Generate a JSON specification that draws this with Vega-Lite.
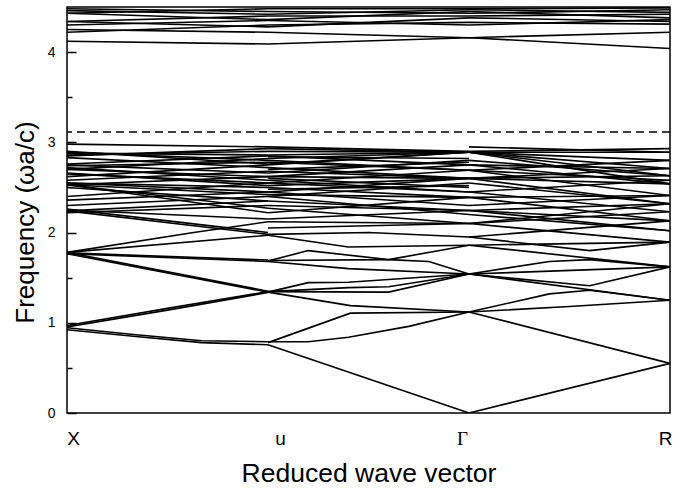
{
"$schema":"https://vega.github.io/schema/vega-lite/v6.json",
"autosize":"none",
"width":603,"height":406,
"padding":{"left":67,"top":7,"right":23,"bottom":78},
"background":"white",
"config":{"view":{"stroke":"black","strokeWidth":1.5},"font":"Liberation Sans"},
"layer":[
{"data":{"values":[
{"s":"A1","x":0,"y":0.923},{"s":"A1","x":0.33,"y":0.85},{"s":"A1","x":0.67,"y":0.78},{"s":"A1","x":1,"y":0.757},
{"s":"A2","x":0,"y":0.945},{"s":"A2","x":0.33,"y":0.87},{"s":"A2","x":0.67,"y":0.8},{"s":"A2","x":1,"y":0.79},
{"s":"A3","x":0,"y":0.955},{"s":"A3","x":0.5,"y":1.14},{"s":"A3","x":1,"y":1.335},
{"s":"A4","x":0,"y":0.97},{"s":"A4","x":0.5,"y":1.16},{"s":"A4","x":1,"y":1.345},
{"s":"A5","x":0,"y":1.765},{"s":"A5","x":1,"y":1.34},
{"s":"A6","x":0,"y":1.78},{"s":"A6","x":1,"y":1.35},
{"s":"A7","x":0,"y":1.765},{"s":"A7","x":1,"y":1.68},
{"s":"A8","x":0,"y":1.775},{"s":"A8","x":1,"y":1.695},
{"s":"A9","x":0,"y":1.78},{"s":"A9","x":1,"y":1.97},
{"s":"A10","x":0,"y":1.78},{"s":"A10","x":0.63,"y":2.0},{"s":"A10","x":1,"y":2.12},
{"s":"A11","x":0,"y":2.24},{"s":"A11","x":1,"y":1.98},
{"s":"A12","x":0,"y":2.24},{"s":"A12","x":1,"y":2.35},
{"s":"A13","x":0,"y":2.25},{"s":"A13","x":1,"y":2.15},
{"s":"A14","x":0,"y":2.53},{"s":"A14","x":1,"y":2.27},
{"s":"A15","x":0,"y":2.53},{"s":"A15","x":1,"y":2.42},
{"s":"A16","x":0,"y":2.53},{"s":"A16","x":1,"y":2.62},
{"s":"A17","x":0,"y":2.55},{"s":"A17","x":1,"y":2.5},
{"s":"A18","x":0,"y":2.62},{"s":"A18","x":1,"y":2.75},
{"s":"A19","x":0,"y":2.65},{"s":"A19","x":1,"y":2.55},
{"s":"A20","x":0,"y":2.7},{"s":"A20","x":1,"y":2.82},
{"s":"A21","x":0,"y":2.72},{"s":"A21","x":1,"y":2.58},
{"s":"A22","x":0,"y":2.75},{"s":"A22","x":1,"y":2.66},
{"s":"A23","x":0,"y":2.76},{"s":"A23","x":1,"y":2.85},
{"s":"A24","x":0,"y":2.83},{"s":"A24","x":1,"y":2.72},
{"s":"A25","x":0,"y":2.86},{"s":"A25","x":1,"y":2.9},
{"s":"A26","x":0,"y":2.89},{"s":"A26","x":1,"y":2.8},
{"s":"A27","x":0,"y":2.98},{"s":"A27","x":1,"y":2.95},
{"s":"A28","x":0,"y":2.36},{"s":"A28","x":1,"y":2.45},
{"s":"A29","x":0,"y":2.5},{"s":"A29","x":1,"y":2.35},
{"s":"A30","x":0,"y":4.12},{"s":"A30","x":1,"y":4.09},
{"s":"A31","x":0,"y":4.22},{"s":"A31","x":1,"y":4.3},
{"s":"A32","x":0,"y":4.25},{"s":"A32","x":1,"y":4.22},
{"s":"A33","x":0,"y":4.34},{"s":"A33","x":1,"y":4.4},
{"s":"A34","x":0,"y":4.34},{"s":"A34","x":1,"y":4.28},
{"s":"A35","x":0,"y":4.43},{"s":"A35","x":1,"y":4.36},
{"s":"A36","x":0,"y":4.48},{"s":"A36","x":1,"y":4.45},
{"s":"A37","x":0,"y":4.43},{"s":"A37","x":1,"y":4.48},
{"s":"A38","x":0,"y":2.22},{"s":"A38","x":1,"y":2.3},
{"s":"A39","x":0,"y":2.26},{"s":"A39","x":1,"y":2.0},
{"s":"A40","x":0,"y":2.53},{"s":"A40","x":1,"y":2.22},
{"s":"A41","x":0,"y":2.55},{"s":"A41","x":1,"y":2.45},
{"s":"A42","x":0,"y":2.58},{"s":"A42","x":1,"y":2.68},
{"s":"A43","x":0,"y":2.7},{"s":"A43","x":1,"y":2.62},
{"s":"A44","x":0,"y":2.74},{"s":"A44","x":1,"y":2.78},
{"s":"A45","x":0,"y":2.88},{"s":"A45","x":1,"y":2.86},
{"s":"A46","x":0,"y":2.9},{"s":"A46","x":1,"y":2.76},
{"s":"A47","x":0,"y":2.66},{"s":"A47","x":1,"y":2.52},
{"s":"A48","x":0,"y":2.85},{"s":"A48","x":1,"y":2.93},
{"s":"A49","x":0,"y":2.4},{"s":"A49","x":1,"y":2.55},
{"s":"A50","x":0,"y":2.3},{"s":"A50","x":1,"y":2.4},
{"s":"A51","x":0,"y":4.46},{"s":"A51","x":1,"y":4.42},
{"s":"A52","x":0,"y":4.3},{"s":"A52","x":1,"y":4.35},
{"s":"B1","x":1,"y":0.757},{"s":"B1","x":2,"y":0},
{"s":"B2","x":1,"y":0.79},{"s":"B2","x":1.2,"y":0.79},{"s":"B2","x":1.4,"y":0.84},{"s":"B2","x":1.7,"y":0.96},{"s":"B2","x":2,"y":1.12},
{"s":"B3","x":1,"y":0.78},{"s":"B3","x":1.41,"y":1.107},{"s":"B3","x":2,"y":1.12},
{"s":"B4","x":1,"y":1.34},{"s":"B4","x":1.41,"y":1.19},{"s":"B4","x":2,"y":1.12},
{"s":"B5","x":1,"y":1.34},{"s":"B5","x":1.2,"y":1.445},{"s":"B5","x":1.4,"y":1.45},{"s":"B5","x":2,"y":1.54},
{"s":"B6","x":1,"y":1.345},{"s":"B6","x":1.6,"y":1.34},{"s":"B6","x":2,"y":1.54},
{"s":"B7","x":1,"y":1.345},{"s":"B7","x":1.4,"y":1.39},{"s":"B7","x":1.6,"y":1.4},{"s":"B7","x":2,"y":1.54},
{"s":"B8","x":1,"y":1.68},{"s":"B8","x":1.4,"y":1.6},{"s":"B8","x":2,"y":1.54},
{"s":"B9","x":1,"y":1.685},{"s":"B9","x":1.2,"y":1.8},{"s":"B9","x":1.6,"y":1.7},{"s":"B9","x":1.8,"y":1.68},{"s":"B9","x":2,"y":1.54},
{"s":"B10","x":1,"y":1.69},{"s":"B10","x":1.6,"y":1.7},{"s":"B10","x":2,"y":1.86},
{"s":"B11","x":1,"y":1.97},{"s":"B11","x":1.4,"y":1.84},{"s":"B11","x":2,"y":1.86},
{"s":"B12","x":1,"y":1.98},{"s":"B12","x":1.5,"y":2.0},{"s":"B12","x":2,"y":1.95},
{"s":"B13","x":1,"y":2.12},{"s":"B13","x":2,"y":2.1},
{"s":"B14","x":1,"y":2.15},{"s":"B14","x":2,"y":2.245},
{"s":"B15","x":1,"y":2.27},{"s":"B15","x":2,"y":2.1},
{"s":"B16","x":1,"y":2.35},{"s":"B16","x":2,"y":2.245},
{"s":"B17","x":1,"y":2.42},{"s":"B17","x":2,"y":2.39},
{"s":"B18","x":1,"y":2.45},{"s":"B18","x":2,"y":2.6},
{"s":"B19","x":1,"y":2.5},{"s":"B19","x":2,"y":2.39},
{"s":"B20","x":1,"y":2.55},{"s":"B20","x":2,"y":2.69},
{"s":"B21","x":1,"y":2.58},{"s":"B21","x":2,"y":2.45},
{"s":"B22","x":1,"y":2.62},{"s":"B22","x":2,"y":2.6},
{"s":"B23","x":1,"y":2.66},{"s":"B23","x":2,"y":2.8},
{"s":"B24","x":1,"y":2.72},{"s":"B24","x":2,"y":2.6},
{"s":"B25","x":1,"y":2.75},{"s":"B25","x":2,"y":2.89},
{"s":"B26","x":1,"y":2.8},{"s":"B26","x":2,"y":2.69},
{"s":"B27","x":1,"y":2.82},{"s":"B27","x":2,"y":2.89},
{"s":"B28","x":1,"y":2.85},{"s":"B28","x":2,"y":2.75},
{"s":"B29","x":1,"y":2.9},{"s":"B29","x":2,"y":2.89},
{"s":"B30","x":1,"y":2.95},{"s":"B30","x":2,"y":2.9},
{"s":"B31","x":1,"y":4.09},{"s":"B31","x":2,"y":4.16},
{"s":"B32","x":1,"y":4.22},{"s":"B32","x":2,"y":4.16},
{"s":"B33","x":1,"y":4.3},{"s":"B33","x":2,"y":4.33},
{"s":"B34","x":1,"y":4.28},{"s":"B34","x":2,"y":4.38},
{"s":"B35","x":1,"y":4.4},{"s":"B35","x":2,"y":4.4},
{"s":"B36","x":1,"y":4.36},{"s":"B36","x":2,"y":4.45},
{"s":"B37","x":1,"y":4.45},{"s":"B37","x":2,"y":4.43},
{"s":"B38","x":1,"y":4.48},{"s":"B38","x":2,"y":4.48},
{"s":"B39","x":1,"y":2.22},{"s":"B39","x":2,"y":2.39},
{"s":"B40","x":1,"y":2.3},{"s":"B40","x":2,"y":2.245},
{"s":"B41","x":1,"y":2.4},{"s":"B41","x":2,"y":2.55},
{"s":"B42","x":1,"y":2.45},{"s":"B42","x":2,"y":2.3},
{"s":"B43","x":1,"y":2.52},{"s":"B43","x":2,"y":2.6},
{"s":"B44","x":1,"y":2.55},{"s":"B44","x":2,"y":2.45},
{"s":"B45","x":1,"y":2.62},{"s":"B45","x":2,"y":2.75},
{"s":"B46","x":1,"y":2.68},{"s":"B46","x":2,"y":2.6},
{"s":"B47","x":1,"y":2.76},{"s":"B47","x":2,"y":2.89},
{"s":"B48","x":1,"y":2.78},{"s":"B48","x":2,"y":2.69},
{"s":"B49","x":1,"y":2.86},{"s":"B49","x":2,"y":2.89},
{"s":"B50","x":1,"y":2.93},{"s":"B50","x":2,"y":2.89},
{"s":"B51","x":1,"y":2.05},{"s":"B51","x":2,"y":2.1},
{"s":"B52","x":1,"y":2.4},{"s":"B52","x":2,"y":2.2},
{"s":"B53","x":1,"y":4.42},{"s":"B53","x":2,"y":4.47},
{"s":"B54","x":1,"y":4.35},{"s":"B54","x":2,"y":4.3},
{"s":"B55","x":1,"y":2.48},{"s":"B55","x":2,"y":2.52},
{"s":"B56","x":1,"y":2.6},{"s":"B56","x":2,"y":2.5},
{"s":"B57","x":1,"y":2.7},{"s":"B57","x":2,"y":2.78},
{"s":"B58","x":1,"y":2.84},{"s":"B58","x":2,"y":2.82},
{"s":"C1","x":2,"y":0},{"s":"C1","x":3,"y":0.55},
{"s":"C2","x":2,"y":1.12},{"s":"C2","x":3,"y":0.55},
{"s":"C3","x":2,"y":1.12},{"s":"C3","x":2.5,"y":1.18},{"s":"C3","x":3,"y":1.25},
{"s":"C4","x":2,"y":1.12},{"s":"C4","x":2.4,"y":1.32},{"s":"C4","x":2.6,"y":1.36},{"s":"C4","x":3,"y":1.25},
{"s":"C5","x":2,"y":1.54},{"s":"C5","x":3,"y":1.25},
{"s":"C6","x":2,"y":1.54},{"s":"C6","x":3,"y":1.62},
{"s":"C7","x":2,"y":1.54},{"s":"C7","x":2.6,"y":1.41},{"s":"C7","x":3,"y":1.62},
{"s":"C8","x":2,"y":1.54},{"s":"C8","x":2.4,"y":1.68},{"s":"C8","x":2.6,"y":1.7},{"s":"C8","x":3,"y":1.62},
{"s":"C9","x":2,"y":1.86},{"s":"C9","x":3,"y":1.62},
{"s":"C10","x":2,"y":1.86},{"s":"C10","x":3,"y":1.894},
{"s":"C11","x":2,"y":1.95},{"s":"C11","x":2.6,"y":1.8},{"s":"C11","x":3,"y":1.894},
{"s":"C12","x":2,"y":2.1},{"s":"C12","x":3,"y":1.894},
{"s":"C13","x":2,"y":1.95},{"s":"C13","x":3,"y":2.13},
{"s":"C14","x":2,"y":2.1},{"s":"C14","x":3,"y":2.23},
{"s":"C15","x":2,"y":2.245},{"s":"C15","x":3,"y":2.02},
{"s":"C16","x":2,"y":2.245},{"s":"C16","x":3,"y":2.32},
{"s":"C17","x":2,"y":2.39},{"s":"C17","x":3,"y":2.13},
{"s":"C18","x":2,"y":2.39},{"s":"C18","x":3,"y":2.41},
{"s":"C19","x":2,"y":2.45},{"s":"C19","x":3,"y":2.23},
{"s":"C20","x":2,"y":2.6},{"s":"C20","x":3,"y":2.32},
{"s":"C21","x":2,"y":2.6},{"s":"C21","x":3,"y":2.54},
{"s":"C22","x":2,"y":2.69},{"s":"C22","x":3,"y":2.41},
{"s":"C23","x":2,"y":2.69},{"s":"C23","x":3,"y":2.58},
{"s":"C24","x":2,"y":2.8},{"s":"C24","x":3,"y":2.63},
{"s":"C25","x":2,"y":2.75},{"s":"C25","x":3,"y":2.71},
{"s":"C26","x":2,"y":2.89},{"s":"C26","x":3,"y":2.8},
{"s":"C27","x":2,"y":2.89},{"s":"C27","x":3,"y":2.89},
{"s":"C28","x":2,"y":2.89},{"s":"C28","x":3,"y":2.54},
{"s":"C29","x":2,"y":2.9},{"s":"C29","x":3,"y":2.93},
{"s":"C30","x":2,"y":2.6},{"s":"C30","x":3,"y":2.71},
{"s":"C31","x":2,"y":4.16},{"s":"C31","x":3,"y":4.04},
{"s":"C32","x":2,"y":4.16},{"s":"C32","x":3,"y":4.22},
{"s":"C33","x":2,"y":4.33},{"s":"C33","x":3,"y":4.31},
{"s":"C34","x":2,"y":4.38},{"s":"C34","x":3,"y":4.34},
{"s":"C35","x":2,"y":4.4},{"s":"C35","x":3,"y":4.42},
{"s":"C36","x":2,"y":4.45},{"s":"C36","x":3,"y":4.38},
{"s":"C37","x":2,"y":4.43},{"s":"C37","x":3,"y":4.47},
{"s":"C38","x":2,"y":4.48},{"s":"C38","x":3,"y":4.49},
{"s":"C39","x":2,"y":2.245},{"s":"C39","x":3,"y":2.13},
{"s":"C40","x":2,"y":2.3},{"s":"C40","x":3,"y":2.41},
{"s":"C41","x":2,"y":2.45},{"s":"C41","x":3,"y":2.58},
{"s":"C42","x":2,"y":2.55},{"s":"C42","x":3,"y":2.32},
{"s":"C43","x":2,"y":2.6},{"s":"C43","x":3,"y":2.63},
{"s":"C44","x":2,"y":2.69},{"s":"C44","x":3,"y":2.8},
{"s":"C45","x":2,"y":2.75},{"s":"C45","x":3,"y":2.54},
{"s":"C46","x":2,"y":2.89},{"s":"C46","x":3,"y":2.71},
{"s":"C47","x":2,"y":2.89},{"s":"C47","x":3,"y":2.63},
{"s":"C48","x":2,"y":2.2},{"s":"C48","x":3,"y":2.02},
{"s":"C49","x":2,"y":2.1},{"s":"C49","x":3,"y":2.32},
{"s":"C50","x":2,"y":2.95},{"s":"C50","x":3,"y":2.89},
{"s":"C51","x":2,"y":4.47},{"s":"C51","x":3,"y":4.44},
{"s":"C52","x":2,"y":4.3},{"s":"C52","x":3,"y":4.36}
]},
"mark":{"type":"line","color":"black","strokeWidth":1.6,"clip":true},
"encoding":{
"x":{"field":"x","type":"quantitative","scale":{"domain":[0,3],"nice":false,"zero":false},
"axis":{"values":[0,1,2,3],"labelExpr":"['X','u','Γ','R'][datum.value]","ticks":false,"domain":false,"grid":false,"labelFlush":false,
"labelFontSize":19,"labelColor":"black","labelPadding":16,
"labelFont":{"condition":{"test":"datum.value==2","value":"Liberation Serif"},"value":"Liberation Sans"},
"labelOffset":{"condition":[{"test":"datum.value==0","value":6},{"test":"datum.value==1","value":12},{"test":"datum.value==2","value":-7}],"value":-5},
"title":"Reduced wave vector","titleFontSize":26.5,"titleFontWeight":"normal","titleColor":"black","titlePadding":12}},
"y":{"field":"y","type":"quantitative","scale":{"domain":[0,4.5],"nice":false,"zero":false},
"axis":{"values":[0,0.5,1,1.5,2,2.5,3,3.5,4],"labelExpr":"datum.value % 1 === 0 ? format(datum.value,'d') : ''","domain":false,"grid":false,
"tickColor":"black","tickWidth":1.5,"tickSize":{"condition":{"test":"datum.value % 1 === 0","value":-9},"value":-5},
"labelFontSize":14,"labelColor":"black","labelPadding":21,
"title":"Frequency (ωa/c)","titleFontSize":26,"titleFontWeight":"normal","titleColor":"black","titleX":-29,"titleY":215}},
"detail":{"field":"s","type":"nominal"}
}},
{"data":{"values":[{"gap":3.115}]},
"mark":{"type":"rule","color":"black","strokeWidth":1.5,"strokeDash":[8,5]},
"encoding":{"y":{"field":"gap","type":"quantitative"}}}
]
}
